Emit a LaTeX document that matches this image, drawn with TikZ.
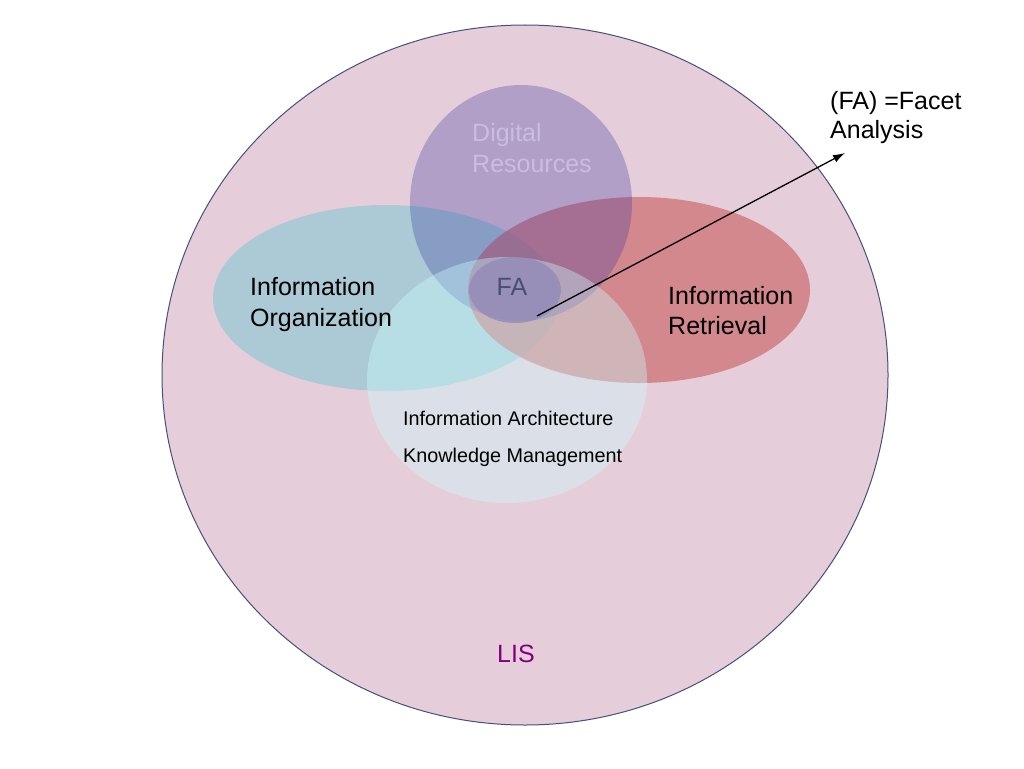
\documentclass[tikz,border=0pt]{standalone}
\usepackage{fontspec}
\setmainfont{Liberation Sans}
\usetikzlibrary{arrows.meta}
\definecolor{lisfill}{RGB}{230,205,218}
\definecolor{lisline}{RGB}{70,80,125}
\definecolor{orgfill}{RGB}{114,201,210}
\definecolor{retfill}{RGB}{204,108,111}
\definecolor{digfill}{RGB}{57,55,158}
\definecolor{botfill}{RGB}{203,255,255}
\definecolor{fafill}{RGB}{145,136,182}
\definecolor{digtext}{RGB}{202,188,226}
\definecolor{fatext}{RGB}{72,78,112}
\definecolor{listext}{RGB}{128,0,128}
\tikzset{
  bigtext/.style={font=\fontsize{25}{30}\selectfont, inner sep=0pt},
  smalltext/.style={font=\fontsize{19.8}{24}\selectfont, inner sep=0pt},
  pointer/.style={-{Latex[length=12pt,width=8pt]}, line width=1.3pt, black}
}
\begin{document}
\begin{tikzpicture}[x=1pt,y=-1pt]
\useasboundingbox (0,0) rectangle (1024,768);
\fill[white] (0,0) rectangle (1024,768);
% LIS
\filldraw[fill=lisfill, draw=lisline, line width=1pt] (525,375) ellipse [x radius=363, y radius=350];
% Information Organization
\fill[orgfill, fill opacity=0.5] (386,298) ellipse [x radius=173, y radius=93];
% Information Retrieval
\fill[retfill, fill opacity=0.7] (639,290) ellipse [x radius=171, y radius=93];
% Digital Resources
\fill[digfill, fill opacity=0.3] (521,203) ellipse [x radius=111, y radius=118];
% Information Architecture / Knowledge Management
\fill[botfill, fill opacity=0.38] (507,380) ellipse [x radius=140, y radius=123];
% FA
\fill[fafill, fill opacity=0.75] (515,290) ellipse [x radius=46, y radius=33];

% texts
\node[bigtext, text=digtext, anchor=base west] (dig1) at (472,141) {Digital};
\node[bigtext, text=digtext, anchor=base west] (dig2) at (472,172) {Resources};
\node[bigtext, anchor=base west] (org1) at (250,295) {Information};
\node[bigtext, anchor=base west] (org2) at (250,326) {Organization};
\node[bigtext, anchor=base west] (ret1) at (668,304) {Information};
\node[bigtext, anchor=base west] (ret2) at (668,334) {Retrieval};
\node[bigtext, text=fatext, anchor=base] (fa) at (512,295) {FA};
\node[smalltext, anchor=base west] (ia) at (403,425) {Information Architecture};
\node[smalltext, anchor=base west] (km) at (403,462) {Knowledge Management};
\node[bigtext, text=listext, anchor=base] (lis) at (516,662) {LIS};
\node[bigtext, anchor=base west] (fa1) at (830,109) {(FA) =Facet};
\node[bigtext, anchor=base west] (fa2) at (830,138) {Analysis};

% pointer
\coordinate (fastart) at (537,316);
\coordinate (fatip) at (845,153);
\draw[pointer] (fastart) -- (fatip);
\end{tikzpicture}
\end{document}
